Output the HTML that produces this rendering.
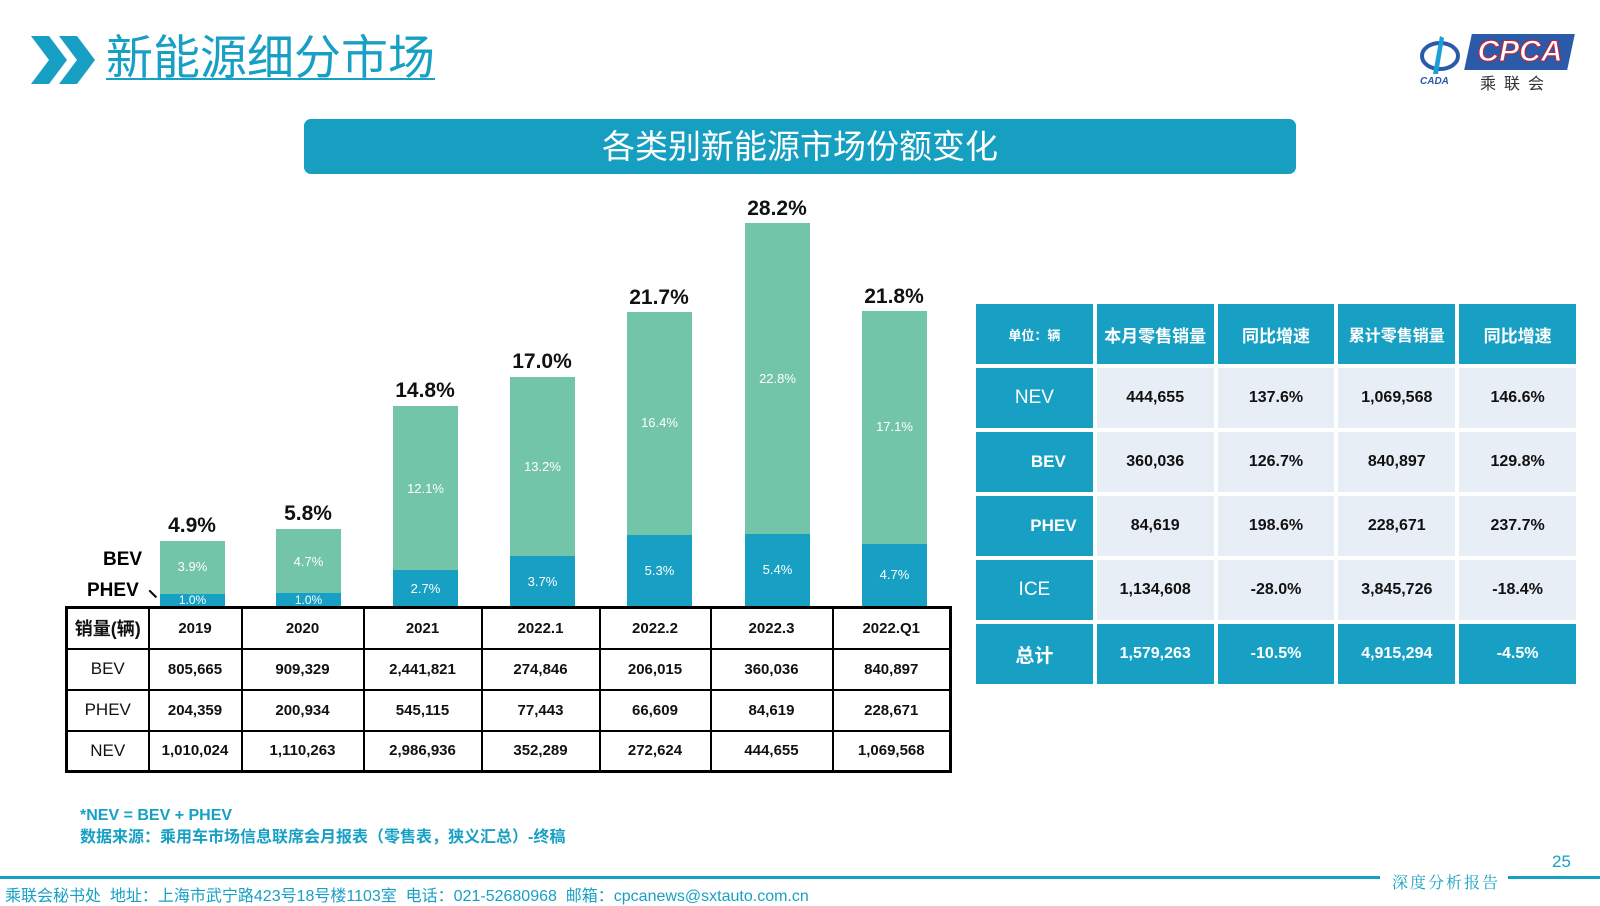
<!DOCTYPE html>
<html><head><meta charset="utf-8"><style>
*{margin:0;padding:0;box-sizing:border-box}
body{width:1600px;height:903px;background:#fff;position:relative;overflow:hidden;font-family:"Liberation Sans","Noto Sans CJK SC",sans-serif}
.a{position:absolute}
.bar{position:absolute;width:65px}
.g{background:#72c5a8}.b{background:#18a0c4}
.in{position:absolute;width:65px;text-align:center;color:#fff;font-size:13px}
.tot{position:absolute;width:120px;text-align:center;font-weight:bold;font-size:21px;color:#111}
table{border-collapse:collapse;position:absolute;table-layout:fixed}
#lt{left:65px;top:606px;width:887px;height:166px;border:3px solid #000}
#lt tr{height:41px}
#lt td{border:2px solid #000;text-align:center;font-size:15px;font-weight:bold;color:#111;padding:0}
#rt{left:972px;top:300px;width:608px;height:385px;border-collapse:separate;border-spacing:4px}
#rt tr{height:60px}
#rt td{text-align:center;font-weight:bold;font-size:16px;color:#111;background:#e8eef5;padding:0}
#rt td.h{background:#18a0c4;color:#fff}
</style></head><body>
<svg class="a" style="left:31px;top:36px" width="66" height="48"><polygon points="0,0 18,0 36,24 18,48 0,48 18,24" fill="#18a0c4"/><polygon points="28,0 46,0 64,24 46,48 28,48 46,24" fill="#18a0c4"/></svg>
<div class="a" style="left:106px;top:30px;font-size:47px;color:#18a0c4;text-decoration:underline;text-decoration-thickness:2px;text-underline-offset:4px;line-height:56px">新能源细分市场</div>
<div class="a" style="left:1418px;top:34px;width:40px;height:50px;"><svg width="46" height="52"><ellipse cx="22" cy="22" rx="18" ry="13" fill="none" stroke="#2a5aa8" stroke-width="4"/><path d="M22 2 L26 4 L20 40 L15 40Z" fill="#1a9fd8"/><text x="2" y="50" font-size="10" font-style="italic" font-weight="bold" fill="#2a5aa8" font-family="Liberation Sans">CADA</text></svg></div>
<div class="a" style="left:1468px;top:34px;width:103px;height:36px;background:#2a5aa8;transform:skewX(-12deg)"></div>
<div class="a" style="left:1470px;top:35px;width:100px;font-size:30px;font-style:italic;font-weight:bold;color:#fff;-webkit-text-stroke:1px #d02030;text-align:center">CPCA</div>
<div class="a" style="left:1480px;top:70px;font-size:16px;letter-spacing:8px;color:#333">乘联会</div>
<div class="a" style="left:304px;top:119px;width:992px;height:55px;background:#169fc0;border-radius:7px;color:#fff;font-size:33px;text-align:center;line-height:55px">各类别新能源市场份额变化</div>

<div class="bar g" style="left:160px;top:541px;height:53px"></div><div class="bar b" style="left:160px;top:594px;height:12px"></div>
<div class="bar g" style="left:276px;top:529px;height:64px"></div><div class="bar b" style="left:276px;top:593px;height:13px"></div>
<div class="bar g" style="left:393px;top:406px;height:164px"></div><div class="bar b" style="left:393px;top:570px;height:36px"></div>
<div class="bar g" style="left:510px;top:377px;height:179px"></div><div class="bar b" style="left:510px;top:556px;height:50px"></div>
<div class="bar g" style="left:627px;top:312px;height:223px"></div><div class="bar b" style="left:627px;top:535px;height:71px"></div>
<div class="bar g" style="left:745px;top:223px;height:311px"></div><div class="bar b" style="left:745px;top:534px;height:72px"></div>
<div class="bar g" style="left:862px;top:311px;height:233px"></div><div class="bar b" style="left:862px;top:544px;height:62px"></div>
<div class="in" style="left:160px;top:559px">3.9%</div><div class="in" style="left:160px;top:593px;font-size:12px">1.0%</div>
<div class="in" style="left:276px;top:554px">4.7%</div><div class="in" style="left:276px;top:593px;font-size:12px">1.0%</div>
<div class="in" style="left:393px;top:481px">12.1%</div><div class="in" style="left:393px;top:581px">2.7%</div>
<div class="in" style="left:510px;top:459px">13.2%</div><div class="in" style="left:510px;top:574px">3.7%</div>
<div class="in" style="left:627px;top:415px">16.4%</div><div class="in" style="left:627px;top:563px">5.3%</div>
<div class="in" style="left:745px;top:371px">22.8%</div><div class="in" style="left:745px;top:562px">5.4%</div>
<div class="in" style="left:862px;top:419px">17.1%</div><div class="in" style="left:862px;top:567px">4.7%</div>
<div class="tot" style="left:132px;top:514px">4.9%</div>
<div class="tot" style="left:248px;top:502px">5.8%</div>
<div class="tot" style="left:365px;top:379px">14.8%</div>
<div class="tot" style="left:482px;top:350px">17.0%</div>
<div class="tot" style="left:599px;top:286px">21.7%</div>
<div class="tot" style="left:717px;top:197px">28.2%</div>
<div class="tot" style="left:834px;top:285px">21.8%</div>
<div class="a" style="left:103px;top:549px;font-size:19px;font-weight:bold">BEV</div>
<div class="a" style="left:87px;top:580px;font-size:19px;font-weight:bold">PHEV</div>
<div class="a" style="left:148px;top:593px;width:10px;height:1.5px;background:#000;transform:rotate(45deg)"></div>

<table id="lt">
<colgroup><col style="width:82px"><col style="width:93px"><col style="width:122px"><col style="width:118px"><col style="width:118px"><col style="width:111px"><col style="width:122px"><col></colgroup>
<tr><td style="font-size:18px">销量(辆)</td><td>2019</td><td>2020</td><td>2021</td><td>2022.1</td><td>2022.2</td><td>2022.3</td><td>2022.Q1</td></tr>
<tr><td style="font-weight:normal;font-size:17px">BEV</td><td>805,665</td><td>909,329</td><td>2,441,821</td><td>274,846</td><td>206,015</td><td>360,036</td><td>840,897</td></tr>
<tr><td style="font-weight:normal;font-size:17px">PHEV</td><td>204,359</td><td>200,934</td><td>545,115</td><td>77,443</td><td>66,609</td><td>84,619</td><td>228,671</td></tr>
<tr><td style="font-weight:normal;font-size:17px">NEV</td><td>1,010,024</td><td>1,110,263</td><td>2,986,936</td><td>352,289</td><td>272,624</td><td>444,655</td><td>1,069,568</td></tr>
</table>

<table id="rt">
<tr><td class="h" style="font-size:13px">单位：辆</td><td class="h" style="font-size:17px">本月零售销量</td><td class="h" style="font-size:17px">同比增速</td><td class="h" style="font-size:16px">累计零售销量</td><td class="h" style="font-size:17px">同比增速</td></tr>
<tr><td class="h" style="font-weight:normal;font-size:19px">NEV</td><td>444,655</td><td>137.6%</td><td>1,069,568</td><td>146.6%</td></tr>
<tr><td class="h" style="font-size:17px;padding-left:28px">BEV</td><td>360,036</td><td>126.7%</td><td>840,897</td><td>129.8%</td></tr>
<tr><td class="h" style="font-size:17px;padding-left:38px">PHEV</td><td>84,619</td><td>198.6%</td><td>228,671</td><td>237.7%</td></tr>
<tr><td class="h" style="font-weight:normal;font-size:19px">ICE</td><td>1,134,608</td><td>-28.0%</td><td>3,845,726</td><td>-18.4%</td></tr>
<tr><td class="h" style="font-size:19px">总计</td><td class="h">1,579,263</td><td class="h">-10.5%</td><td class="h">4,915,294</td><td class="h">-4.5%</td></tr>
</table>

<div class="a" style="left:80px;top:805px;font-size:16px;font-weight:bold;color:#18a0c4;line-height:22px">*NEV = BEV + PHEV<br>数据来源：乘用车市场信息联席会月报表（零售表，狭义汇总）-终稿</div>
<div class="a" style="left:1552px;top:852px;font-size:17px;color:#18a0c4">25</div>
<div class="a" style="left:0;top:876px;width:1380px;height:3px;background:#18a0c4"></div>
<div class="a" style="left:1508px;top:876px;width:92px;height:3px;background:#18a0c4"></div>
<div class="a" style="left:1392px;top:870px;font-size:16px;color:#18a0c4;font-family:'Noto Serif CJK SC',serif;letter-spacing:2px">深度分析报告</div>
<div class="a" style="left:5px;top:882px;font-size:16px;color:#18a0c4">乘联会秘书处&nbsp; 地址：上海市武宁路423号18号楼1103室&nbsp; 电话：021-52680968&nbsp; 邮箱：cpcanews@sxtauto.com.cn</div>
</body></html>
